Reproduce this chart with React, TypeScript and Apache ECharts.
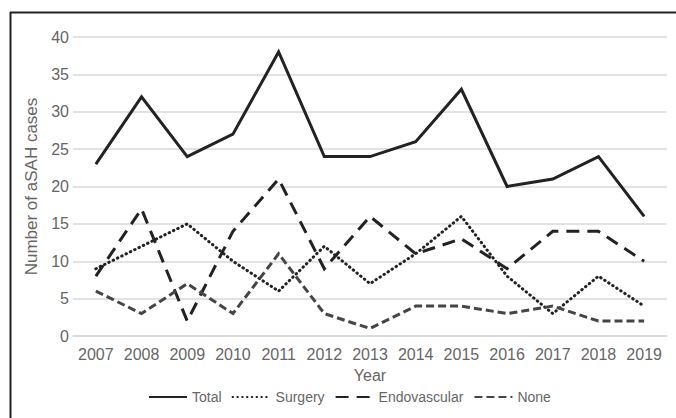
import React, { useEffect, useRef } from "react";
import * as echarts from "echarts";

const years = ["2007", "2008", "2009", "2010", "2011", "2012", "2013", "2014", "2015", "2016", "2017", "2018", "2019"];
const total = [23, 32, 24, 27, 38, 24, 24, 26, 33, 20, 21, 24, 16];
const surgery = [9, 12, 15, 10, 6, 12, 7, 11, 16, 8, 3, 8, 4];
const endovascular = [8, 17, 2, 14, 21, 9, 16, 11, 13, 9, 14, 14, 10];
const none = [6, 3, 7, 3, 11, 3, 1, 4, 4, 3, 4, 2, 2];

const FONT = "'Liberation Sans', Arial, sans-serif";
const TEXT = "#666666";

export default function App() {
  const ref = useRef<HTMLDivElement>(null);
  useEffect(() => {
    if (!ref.current) return;
    const chart = echarts.init(ref.current, undefined, { renderer: "svg" });
    const mk = (name: string, data: number[], color: string, type: any, cap: string) => ({
      name,
      type: "line",
      data,
      symbol: "none",
      lineStyle: { color, width: 3, type, cap, join: "miter" },
      itemStyle: { color },
    });
    chart.setOption({
      animation: false,
      backgroundColor: "#ffffff",
      textStyle: { fontFamily: FONT },
      grid: { left: 73, right: 9, top: 37, bottom: 82, containLabel: false },
      xAxis: {
        type: "category",
        data: years,
        boundaryGap: true,
        axisLine: { show: true, lineStyle: { color: "#d9d9d9", width: 1.5 } },
        axisTick: { show: false },
        axisLabel: { color: TEXT, fontSize: 16, fontFamily: FONT, margin: 10, interval: 0 },
        name: "Year",
        nameLocation: "middle",
        nameGap: 31,
        nameTextStyle: { color: TEXT, fontSize: 16, fontFamily: FONT },
      },
      yAxis: {
        type: "value",
        min: 0,
        max: 40,
        interval: 5,
        axisLine: { show: false },
        axisTick: { show: false },
        splitLine: { lineStyle: { color: "#d9d9d9", width: 1.5 } },
        axisLabel: { color: TEXT, fontSize: 16, fontFamily: FONT, margin: 4 },
        name: "Number of aSAH cases",
        nameLocation: "middle",
        nameGap: 32,
        nameRotate: 90,
        nameTextStyle: { color: TEXT, fontSize: 17, fontFamily: FONT, align: "center", verticalAlign: "middle" },
      },
      legend: {
        left: 148,
        top: 390,
        padding: 0,
        itemWidth: 38,
        itemHeight: 14,
        itemGap: 10,
        itemStyle: { color: "transparent", borderWidth: 0, opacity: 0 },
        textStyle: { color: TEXT, fontSize: 14, fontFamily: FONT },
        data: ["Total", "Surgery", "Endovascular", "None"],
      },
      graphic: [
        { type: "line", shape: { x1: 10, y1: 12.5, x2: 676, y2: 12.5 }, style: { stroke: "#222", lineWidth: 2 } },
        { type: "line", shape: { x1: 10.5, y1: 12, x2: 10.5, y2: 418 }, style: { stroke: "#222", lineWidth: 2 } },
      ],
      series: [
        mk("Total", total, "#222222", "solid", "butt"),
        mk("Surgery", surgery, "#222222", [0.5, 4.3], "round"),
        mk("Endovascular", endovascular, "#222222", [13, 8], "butt"),
        mk("None", none, "#454545", [8, 4], "butt"),
      ],
    });
    return () => chart.dispose();
  }, []);
  return <div ref={ref} style={{ position: "absolute", left: 0, top: 0, width: 676, height: 418 }} />;
}
